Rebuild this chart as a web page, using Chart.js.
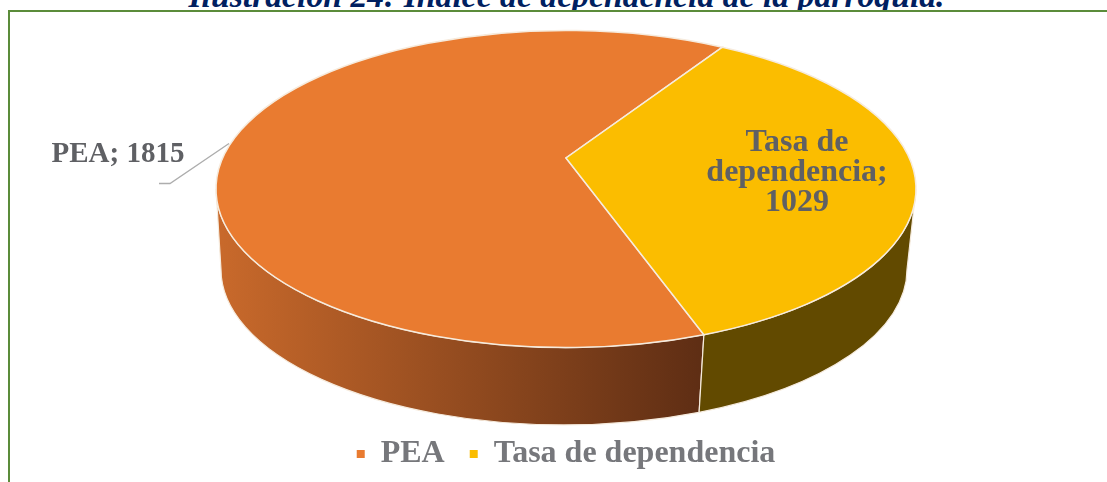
<!DOCTYPE html>
<html lang="es">
<head>
  <meta charset="UTF-8" />
  <title>Índice de dependencia de la parroquia</title>
  <script src="https://cdn.jsdelivr.net/npm/chart.js"></script>
  <style>
    html, body { margin: 0; padding: 0; background: #fff; overflow: hidden; }
    #wrap { position: relative; width: 1107px; height: 482px; overflow: hidden; }
    #title {
      position: absolute; left: 0; width: 1133px; top: -23px; text-align: center;
      font: italic bold 33.7px "Liberation Serif", serif; color: #002060; white-space: nowrap;
    }
    #frame {
      position: absolute; left: 8px; top: 10px; width: 1200px; height: 600px;
      border: 2px solid #5b8c3a; box-sizing: border-box; background: #fff;
    }
    /* canvas starts above the page so the pie sits high, over the legend */
    canvas { position: absolute; left: 0; top: -35px; }
  </style>
</head>
<body>
<div id="wrap">
  <div id="title">Ilustración 24: Índice de dependencia de la parroquia.</div>
  <div id="frame"></div>
  <canvas id="pie" width="1107" height="517"></canvas>
</div>

<script>
const categories = ['PEA', 'Tasa de dependencia'];
const values = [1815, 1029];
const topColors = ['#e97b30', '#fbbd00'];
const wallColors = [['#c8692b', '#5f2e14'], ['#624a00', '#624a00']];

// pie look: squash of the top face, and the smaller bottom face of the 3D wall
const squash = 0.453;
const apexLift = 31;
const bottom = { dx: -2, dy: 80.5, shrink: 0.98 };
const edgeColor = '#f6ebdd';
const labelColor = '#5f6064';

function norm(a) {
  const t = Math.PI * 2;
  return ((a % t) + t) % t;
}

function drawWall(ctx, el, i) {
  // only the front half of the rim shows (0..PI on the canvas)
  const rx = el.outerRadius, ry = rx * squash;
  const bx = el.x + bottom.dx, by = el.y + bottom.dy;
  const brx = rx * bottom.shrink, bry = ry * bottom.shrink;
  const s = norm(el.startAngle), e = norm(el.endAngle);
  const ranges = s < e ? [[s, e]] : [[s, Math.PI * 2], [0, e]];
  ranges.forEach(([a, b]) => {
    const from = Math.max(a, 0), to = Math.min(b, Math.PI);
    if (from >= to) return;
    ctx.beginPath();
    ctx.ellipse(el.x, el.y, rx, ry, 0, from, to);
    ctx.ellipse(bx, by, brx, bry, 0, to, from, true);
    ctx.closePath();
    const g = ctx.createLinearGradient(bx - brx, 0, bx + Math.cos(from) * brx, 0);
    g.addColorStop(0, wallColors[i][0]);
    g.addColorStop(1, wallColors[i][1]);
    ctx.fillStyle = g;
    ctx.fill();
    ctx.strokeStyle = edgeColor;
    ctx.lineWidth = 1.2;
    ctx.stroke();
  });
}

function drawTop(ctx, el, i) {
  const rx = el.outerRadius, ry = rx * squash;
  ctx.beginPath();
  ctx.moveTo(el.x, el.y - apexLift);
  ctx.ellipse(el.x, el.y, rx, ry, 0, el.startAngle, el.endAngle);
  ctx.closePath();
  ctx.fillStyle = topColors[i];
  ctx.fill();
  ctx.strokeStyle = edgeColor;
  ctx.lineWidth = 1.5;
  ctx.stroke();
}

function drawLabels(chart, el0, el1) {
  const ctx = chart.ctx;
  ctx.save();
  ctx.fillStyle = labelColor;
  ctx.textAlign = 'center';
  ctx.textBaseline = 'middle';

  // outside label for the big slice, with its leader line
  ctx.font = 'bold 29px "Liberation Serif", serif';
  ctx.fillText(categories[0] + '; ' + values[0], el0.x - 448, el0.y - 34.5);
  ctx.beginPath();
  ctx.moveTo(el0.x - 407, el0.y - 5.5);
  ctx.lineTo(el0.x - 396, el0.y - 5.5);
  ctx.lineTo(el0.x - 337, el0.y - 45.5);
  ctx.strokeStyle = '#adadad';
  ctx.lineWidth = 1.3;
  ctx.stroke();

  // inside label wraps on three lines
  ctx.font = 'bold 32px "Liberation Serif", serif';
  const words = (categories[1] + '; ' + values[1]).split(' ');
  const lines = [words[0] + ' ' + words[1], words[2], words[3]];
  lines.forEach((t, n) => ctx.fillText(t, el1.x + 231, el1.y - 46 + n * 30));
  ctx.restore();
}

const pie3d = {
  id: 'pie3d',
  beforeDatasetsDraw(chart) {
    const ctx = chart.ctx;
    const arcs = chart.getDatasetMeta(0).data;
    ctx.save();
    arcs.forEach((el, i) => drawWall(ctx, el, i));
    arcs.forEach((el, i) => drawTop(ctx, el, i));
    ctx.restore();
    drawLabels(chart, arcs[0], arcs[1]);
    return false;
  }
};

new Chart(document.getElementById('pie'), {
  type: 'pie',
  plugins: [pie3d],
  data: {
    labels: categories,
    datasets: [{ data: values, backgroundColor: topColors, borderWidth: 0 }]
  },
  options: {
    responsive: false,
    animation: false,
    rotation: 156.8,
    radius: 350,
    layout: { padding: { left: 25, bottom: 2 } },
    plugins: {
      tooltip: { enabled: false },
      legend: {
        position: 'bottom',
        labels: {
          boxWidth: 8,
          boxHeight: 8,
          padding: 25,
          color: '#76777b',
          font: { family: '"Liberation Serif", serif', size: 32, weight: 'bold' }
        }
      }
    }
  }
});
</script>
</body>
</html>
